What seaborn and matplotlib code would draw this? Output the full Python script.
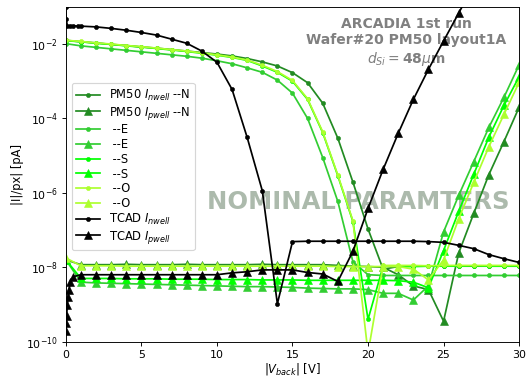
import numpy as np
import pandas as pd
import matplotlib
matplotlib.use("Agg")
import matplotlib.pyplot as plt
import seaborn as sns

# ---------------- data (log10 of |I|/px in pA) ----------------
V = list(range(0, 31))

n_nwell = [-1.90, -1.94, -1.97, -2.01, -2.04, -2.08, -2.11, -2.15, -2.19, -2.23,
           -2.27, -2.32, -2.39, -2.48, -2.59, -2.77, -3.04, -3.59, -4.53, -5.71,
           -6.97, -8.05, -7.98, -7.97, -7.97, -7.96, -7.97, -7.97, -7.97, -7.97, -7.97]
n_pwell = [-7.80, -7.93, -7.93, -7.93, -7.92, -7.93, -7.93, -7.93, -7.92, -7.93,
           -7.93, -7.93, -7.93, -7.92, -7.93, -7.93, -7.93, -7.93, -7.95, -7.97,
           -7.98, -8.00, -8.20, -8.50, -8.60, -9.45, -7.62, -6.55, -5.51, -4.62, -3.70]
e_nwell = [-1.99, -2.05, -2.09, -2.13, -2.17, -2.21, -2.25, -2.29, -2.33, -2.38,
           -2.45, -2.53, -2.64, -2.76, -2.97, -3.32, -4.00, -5.05, -6.23, -7.85,
           -8.20, -8.22, -8.22, -8.22, -8.22, -8.22, -8.22, -8.22, -8.22, -8.22, -8.22]
e_pwell = [-7.80, -8.40, -8.42, -8.43, -8.44, -8.45, -8.46, -8.47, -8.48, -8.49,
           -8.50, -8.51, -8.52, -8.52, -8.53, -8.54, -8.56, -8.57, -8.58, -8.58,
           -8.60, -8.70, -8.70, -8.88, -8.50, -7.05, -6.07, -5.16, -4.24, -3.43, -2.56]
s_nwell = [-1.91, -1.94, -1.98, -2.01, -2.05, -2.08, -2.12, -2.16, -2.20, -2.25,
           -2.30, -2.36, -2.44, -2.59, -2.76, -3.00, -3.49, -4.38, -5.54, -6.77,
           -9.40, -7.97, -7.97, -7.98, -7.97, -7.97, -7.97, -7.96, -7.97, -7.97, -7.97]
s_pwell = [-7.80, -8.30, -8.30, -8.30, -8.31, -8.31, -8.31, -8.32, -8.32, -8.32,
           -8.33, -8.33, -8.33, -8.34, -8.34, -8.34, -8.35, -8.35, -8.35, -8.35,
           -8.35, -8.35, -8.36, -8.40, -8.55, -7.55, -6.50, -5.50, -4.50, -3.65, -2.88]
o_nwell = [-1.90, -1.93, -1.97, -2.00, -2.04, -2.07, -2.11, -2.15, -2.19, -2.24,
           -2.29, -2.35, -2.43, -2.57, -2.74, -2.98, -3.47, -4.36, -5.52, -6.75,
           -10.30, -7.95, -7.95, -7.95, -7.96, -7.95, -7.95, -7.95, -7.95, -7.95, -7.95]
o_pwell = [-7.75, -7.96, -7.96, -7.96, -7.97, -7.97, -7.97, -7.97, -7.97, -7.97,
           -7.97, -7.97, -7.97, -7.97, -7.97, -7.97, -7.97, -7.97, -7.98, -7.98,
           -7.98, -7.98, -7.98, -8.05, -8.34, -7.80, -6.70, -5.72, -4.76, -3.89, -3.03]

V_tcad_n = [0, 0.02, 0.1, 0.3, 0.5, 0.8, 1, 2, 3, 4, 5, 6, 7, 8, 9, 10, 11, 12, 13,
            14, 15, 16, 17, 18, 19, 20, 21, 22, 23, 24, 25, 26, 27, 28, 29, 30]
tcad_nwell = [-1.00, -1.33, -1.51, -1.51, -1.51, -1.52, -1.52, -1.54, -1.58, -1.63,
              -1.69, -1.76, -1.87, -1.98, -2.19, -2.49, -3.22, -4.51, -5.94,
              -8.98, -7.31, -7.30, -7.30, -7.30, -7.30, -7.30, -7.30, -7.30, -7.30,
              -7.31, -7.33, -7.41, -7.50, -7.66, -7.77, -7.87]
V_tcad_p = [0, 0.02, 0.05, 0.1, 0.15, 0.2, 0.3, 0.5, 1, 2, 3, 4, 5, 6, 7, 8, 9, 10,
            11, 12, 13, 14, 15, 16, 17, 18, 19, 20, 21, 22, 23, 24, 25, 26, 27]
tcad_pwell = [-9.70, -9.50, -9.30, -9.00, -8.80, -8.60, -8.40, -8.25, -8.20, -8.20,
              -8.20, -8.20, -8.20, -8.20, -8.20, -8.20, -8.20, -8.20, -8.15, -8.12,
              -8.07, -8.07, -8.07, -8.14, -8.18, -8.38, -7.57, -6.42, -5.37, -4.40,
              -3.49, -2.68, -1.92, -1.17, -0.42]

labels = [r"PM50 $I_{nwell}$ --N", r"PM50 $I_{pwell}$ --N", " --E", " --E",
          " --S", " --S", " --O", " --O", r"TCAD $I_{nwell}$", r"TCAD $I_{pwell}$"]
x_ticks = [0, 5, 10, 15, 20, 25, 30]

# ---------------- build table ----------------
series = [
    (V, n_nwell, labels[0], "forestgreen", "nw"),
    (V, n_pwell, labels[1], "forestgreen", "pw"),
    (V, e_nwell, labels[2], "limegreen", "nw"),
    (V, e_pwell, labels[3], "limegreen", "pw"),
    (V, s_nwell, labels[4], "lime", "nw"),
    (V, s_pwell, labels[5], "lime", "pw"),
    (V, o_nwell, labels[6], "greenyellow", "nw"),
    (V, o_pwell, labels[7], "greenyellow", "pw"),
    (V_tcad_n, tcad_nwell, labels[8], "black", "nw"),
    (V_tcad_p, tcad_pwell, labels[9], "black", "pw"),
]

DPI = 83
fig = plt.figure(figsize=(527 / DPI, 378 / DPI), dpi=DPI)
ax = fig.add_axes([0.125, 0.096, 0.985 - 0.125, 0.982 - 0.096])

for i, (xs, ys, lab, col, kind) in enumerate(series):
    df = pd.DataFrame({"V": xs, "I": 10.0 ** np.array(ys)})
    if kind == "nw":
        mk = dict(marker="o", markersize=3.6, markeredgewidth=0.5)
    else:
        mk = dict(marker="^", markersize=7, markeredgewidth=0.5)
    sns.lineplot(data=df, x="V", y="I", ax=ax, color=col, label=lab,
                 estimator=None, errorbar=None, sort=False,
                 linewidth=1.5, markeredgecolor=col, zorder=2 + i * 0.01, **mk)

ax.set_yscale("log")
ax.set_xlim(0, 30)
ax.set_ylim(1e-10, 1e-1)
ax.set_xticks(x_ticks)
ax.yaxis.set_major_locator(matplotlib.ticker.FixedLocator([1e-10, 1e-8, 1e-6, 1e-4, 1e-2]))
ax.yaxis.set_minor_locator(matplotlib.ticker.NullLocator())
ax.tick_params(labelsize=9.5)
ax.set_xlabel(r"$|V_{back}|$ [V]", labelpad=1)
ax.set_ylabel("|I|/px| [pA]", labelpad=2)

ax.text(0.7506, 0.969, "ARCADIA 1st run\nWafer#20 PM50 layout1A\n$d_{Si}=$48$\\mu$m",
        transform=ax.transAxes, ha="center", va="top", multialignment="center",
        fontsize=12, fontweight="bold", color="gray", zorder=1)
ax.text(0.645, 0.396, "NOMINAL PARAMTERS", transform=ax.transAxes,
        ha="center", va="baseline", fontsize=21, fontweight="bold",
        color="#acbaac", zorder=1)

ax.legend(loc="upper left", bbox_to_anchor=(0.0132, 0.772), borderaxespad=0,
          labelspacing=0.15)

fig.savefig("out.png", dpi=DPI)
